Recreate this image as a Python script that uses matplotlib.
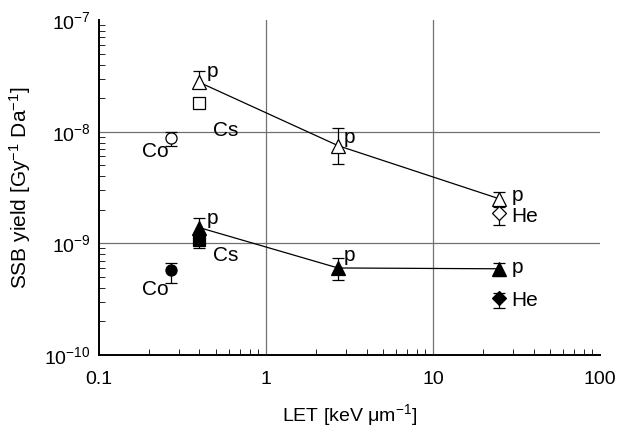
import matplotlib
matplotlib.use("Agg")
import matplotlib.pyplot as plt
import numpy as np

plt.rcParams['font.family'] = ['Liberation Sans', 'DejaVu Sans']
plt.rcParams['mathtext.fontset'] = 'custom'
plt.rcParams['mathtext.rm'] = 'Liberation Sans'
plt.rcParams['mathtext.it'] = 'Liberation Sans:italic'
plt.rcParams['mathtext.default'] = 'regular'

# x = LET [keV/um], y = SSB yield, lo/hi = error bar ends
open_tri_x = [0.4, 2.7, 25]
open_tri_y = [2.77e-8, 7.5e-9, 2.5e-9]
open_tri_lo = [2.45e-8, 5.1e-9, 2.25e-9]
open_tri_hi = [3.5e-8, 1.07e-8, 2.9e-9]

fill_tri_x = [0.4, 2.7, 25]
fill_tri_y = [1.38e-9, 6.0e-10, 5.9e-10]
fill_tri_lo = [1.15e-9, 4.7e-10, 5.1e-10]
fill_tri_hi = [1.7e-9, 7.4e-10, 6.7e-10]

# other radiations: (x, y, lo, hi)
open_sq = (0.4, 1.8e-8, 1.7e-8, 1.9e-8)
open_circ = (0.27, 8.7e-9, 7.4e-9, 9.9e-9)
open_dia = (25, 1.85e-9, 1.45e-9, 2.1e-9)
fill_sq = (0.4, 1.07e-9, 9.0e-10, 1.2e-9)
fill_circ = (0.27, 5.7e-10, 4.4e-10, 6.6e-10)
fill_dia = (25, 3.2e-10, 2.6e-10, 3.6e-10)

x_ticks = [0.1, 1, 10, 100]
x_ticklabels = ['0.1', '1', '10', '100']
y_ticks = [1e-10, 1e-9, 1e-8, 1e-7]
y_ticklabels = ['$10^{-10}$', '$10^{-9}$', '$10^{-8}$', '$10^{-7}$']

fig = plt.figure(figsize=(6.18, 4.30), dpi=100)
ax = fig.add_axes([0.16, 0.175, 0.811, 0.778])


def errs(y, lo, hi):
    y = np.atleast_1d(y)
    return [y - np.atleast_1d(lo), np.atleast_1d(hi) - y]


common = dict(ecolor='black', elinewidth=0.9, capsize=4, capthick=0.9,
              markeredgecolor='black', markeredgewidth=0.9, zorder=3)

ax.errorbar(open_tri_x, open_tri_y, yerr=errs(open_tri_y, open_tri_lo, open_tri_hi),
            fmt='^-', color='black', lw=0.9, mfc='white', ms=10, **common)
ax.errorbar(fill_tri_x, fill_tri_y, yerr=errs(fill_tri_y, fill_tri_lo, fill_tri_hi),
            fmt='^-', color='black', lw=0.9, mfc='black', ms=10, **common)

for (x, y, lo, hi), m, fc in [(open_sq, 's', 'white'), (open_circ, 'o', 'white'),
                              (open_dia, 'D', 'white'), (fill_sq, 's', 'black'),
                              (fill_circ, 'o', 'black'), (fill_dia, 'D', 'black')]:
    ax.errorbar([x], [y], yerr=errs(y, lo, hi), fmt=m, mfc=fc,
                ms=8 if m != 'D' else 7, **common)

ax.set_xscale('log')
ax.set_yscale('log')
ax.set_xlim(0.1, 100)
ax.set_ylim(1e-10, 1e-7)

# grid only at interior decades
for v in x_ticks[1:-1]:
    ax.axvline(v, color='#707070', lw=0.9, zorder=1)
for v in y_ticks[1:-1]:
    ax.axhline(v, color='#707070', lw=0.9, zorder=1)

for s in ['top', 'right']:
    ax.spines[s].set_visible(False)
for s in ['left', 'bottom']:
    ax.spines[s].set_linewidth(1.4)
ax.tick_params(which='both', direction='in', labelsize=14)
ax.tick_params(which='major', length=0)
ax.tick_params(axis='x', which='major', pad=12)
ax.tick_params(axis='y', which='major', pad=6)
ax.tick_params(which='minor', length=4)
ax.set_xticks(x_ticks)
ax.set_xticklabels(x_ticklabels)
ax.set_yticks(y_ticks)
ax.set_yticklabels(y_ticklabels)

ax.set_xlabel('LET [keV μm$^{-1}$]', fontsize=14, labelpad=10)
ax.set_ylabel('SSB yield [Gy$^{-1}$ Da$^{-1}$]', fontsize=15, labelpad=8)

fs = 15
ax.text(0.44, 3.1e-8, 'p', fontsize=fs)
ax.text(2.9, 7.9e-9, 'p', fontsize=fs)
ax.text(29.5, 2.4e-9, 'p', fontsize=fs)
ax.text(29.5, 1.55e-9, 'He', fontsize=fs)
ax.text(0.44, 1.5e-9, 'p', fontsize=fs)
ax.text(2.9, 6.9e-10, 'p', fontsize=fs)
ax.text(29.5, 5.4e-10, 'p', fontsize=fs)
ax.text(29.5, 2.75e-10, 'He', fontsize=fs)
ax.text(0.48, 9.2e-9, 'Cs', fontsize=fs)
ax.text(0.48, 7.0e-10, 'Cs', fontsize=fs)
ax.text(0.18, 5.9e-9, 'Co', fontsize=fs)
ax.text(0.18, 3.4e-10, 'Co', fontsize=fs)

fig.savefig('out.png', dpi=100)
